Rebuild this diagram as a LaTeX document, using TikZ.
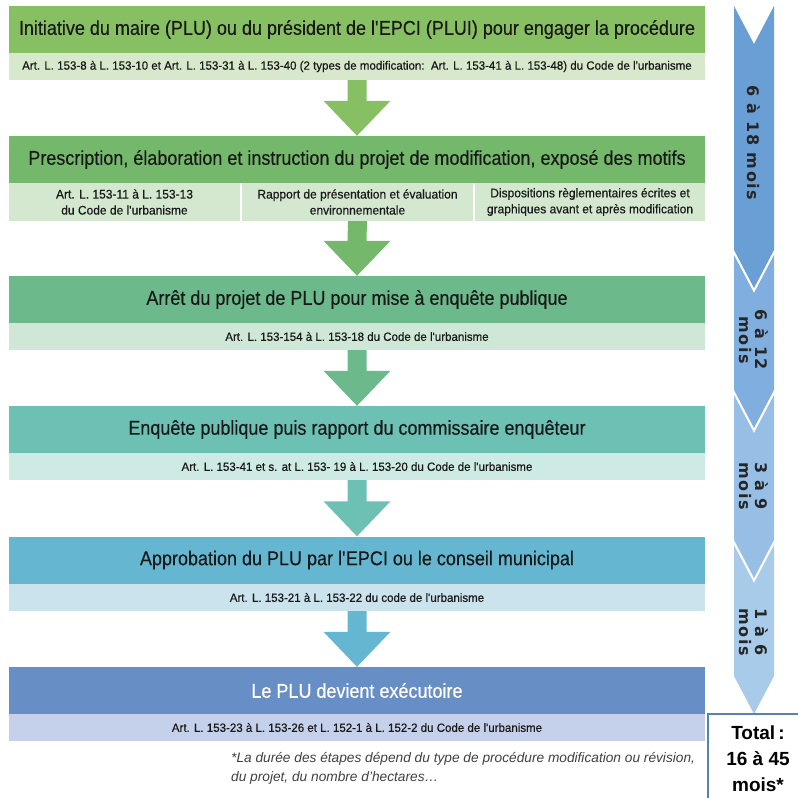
\documentclass[tikz,border=0pt]{standalone}
\usepackage{fontspec}
\setmainfont{Liberation Sans}
\newfontfamily\headfont{Liberation Sans}[FakeStretch=0.9,FakeBold=0.3]
\newfontfamily\narrowfont{Liberation Sans}[FakeStretch=0.96,FakeBold=0.5]
\newfontfamily\chevfont{DejaVu Sans}[LetterSpace=10]
\usetikzlibrary{calc}

\definecolor{headA}{HTML}{87BF63}
\definecolor{subA}{HTML}{D8E8CC}
\definecolor{headB}{HTML}{74B96B}
\definecolor{subB}{HTML}{D3E8CF}
\definecolor{headC}{HTML}{6CBA8C}
\definecolor{subC}{HTML}{CFE7D7}
\definecolor{headD}{HTML}{6CC0B4}
\definecolor{subD}{HTML}{CDEAE4}
\definecolor{headE}{HTML}{65B7D1}
\definecolor{subE}{HTML}{CBE3EC}
\definecolor{headF}{HTML}{678FC6}
\definecolor{subF}{HTML}{C5D1EA}
\definecolor{chevA}{HTML}{6A9FD6}
\definecolor{chevB}{HTML}{80AFDF}
\definecolor{chevC}{HTML}{97BFE6}
\definecolor{chevD}{HTML}{A8CBEA}
\definecolor{totalline}{HTML}{5585AA}

\tikzset{
 head/.style={minimum width=696pt,minimum height=47pt,inner sep=0pt,
   text=black!90,font=\headfont\fontsize{20}{22}\selectfont},
 sub/.style={minimum width=696pt,minimum height=27pt,inner sep=0pt,
   text=black!90,font=\narrowfont\fontsize{12}{14}\selectfont},
 subcol/.style={minimum width=231pt,minimum height=38pt,inner sep=0pt,
   align=center,text=black!90,font=\narrowfont\fontsize{12.5}{16}\selectfont},
 chevtext/.style={rotate=-90,inner sep=0pt,align=center,text=black!85,
   font=\chevfont\bfseries\fontsize{16}{16}\selectfont}
}

\newcommand{\blockarrow}[3]{
 \fill[#3] ($(#1.south)+(-9.5,0)$) -- ($(#1.south)+(9.5,0)$)
   -- ($(#2.north)+(9.5,-35)$) -- ($(#2.north)+(33.5,-35)$) -- (#2.north)
   -- ($(#2.north)+(-33.5,-35)$) -- ($(#2.north)+(-9.5,-35)$) -- cycle;}
\newcommand{\chevron}[3]{
 \fill[#3] (734,#1) -- (754,{#1+38}) -- (774,#1) -- (774,#2)
   -- (754,{#2+38}) -- (734,#2) -- cycle;}

\begin{document}
\begin{tikzpicture}[x=1pt,y=-1pt]
 \useasboundingbox (0,0) rectangle (798,798);
 \node[head,fill=headA] (h1) at (357,29.5) {Initiative du maire (PLU) ou du président de l\textquotesingle EPCI (PLUI) pour engager la procédure};
 \node[sub,fill=subA] (s1) at (357,66.5) {Art. L. 153-8 à L. 153-10 et Art. L. 153-31 à L. 153-40 (2 types de modification:\ \ Art. L. 153-41 à L. 153-48) du Code de l\textquotesingle urbanisme};
 \node[head,fill=headB] (h2) at (357,159.5) {Prescription, élaboration et instruction du projet de modification, exposé des motifs};
 \node[subcol,fill=subB] (s2a) at (124.5,202) {Art. L. 153-11 à L. 153-13\\du Code de l\textquotesingle urbanisme};
 \node[subcol,fill=subB] (s2b) at (357.5,202) {Rapport de présentation et évaluation\\environnementale};
 \node[subcol,fill=subB,minimum width=230pt] (s2c) at (590,202) {Dispositions règlementaires écrites et\\graphiques avant et après modification};
 \node[head,fill=headC] (h3) at (357,299.5) {Arrêt du projet de PLU pour mise à enquête publique};
 \node[sub,fill=subC] (s3) at (357,336.5) {Art. L. 153-154 à L. 153-18 du Code de l\textquotesingle urbanisme};
 \node[head,fill=headD] (h4) at (357,429.5) {Enquête publique puis rapport du commissaire enquêteur};
 \node[sub,fill=subD] (s4) at (357,466.5) {Art. L. 153-41 et s. at L. 153- 19 à L. 153-20 du Code de l\textquotesingle urbanisme};
 \node[head,fill=headE] (h5) at (357,560) {Approbation du PLU par l\textquotesingle EPCI ou le conseil municipal};
 \node[sub,fill=subE] (s5) at (357,597.5) {Art. L. 153-21 à L. 153-22 du code de l\textquotesingle urbanisme};
 \node[head,fill=headF,text=white] (h6) at (357,690.5) {Le PLU devient exécutoire};
 \node[sub,fill=subF] (s6) at (357,727.5) {Art. L. 153-23 à L. 153-26 et L. 152-1 à L. 152-2 du Code de l\textquotesingle urbanisme};
 \blockarrow{s1}{h2}{headA}
 \blockarrow{s2b}{h3}{headB}
 \blockarrow{s3}{h4}{headC}
 \blockarrow{s4}{h5}{headD}
 \blockarrow{s5}{h6}{headE}
 \chevron{6}{250}{chevA}
 \chevron{255}{390}{chevB}
 \chevron{395}{540}{chevC}
 \chevron{545}{676}{chevD}
 \node[chevtext] (d1) at (754,143) {6 à 18 mois};
 \node[chevtext] (d2) at (754,340) {6 à 12\\mois};
 \node[chevtext] (d3) at (754,486) {3 à 9\\mois};
 \node[chevtext] (d4) at (754,632) {1 à 6\\mois};
 \draw[totalline,line width=2pt] (708,714) rectangle (802,802);
 \node[align=center,inner sep=0pt,font=\bfseries\fontsize{19}{26}\selectfont] (total) at (758,759) {Total\,:\\16 à 45\\mois*};
 \node[anchor=north west,align=left,inner sep=0pt,text=black!75,
   font=\itshape\fontsize{13.7}{19}\selectfont] (note) at (231,752)
   {*La durée des étapes dépend du type de procédure modification ou révision,\\du projet, du nombre d’hectares…};
\end{tikzpicture}
\end{document}
